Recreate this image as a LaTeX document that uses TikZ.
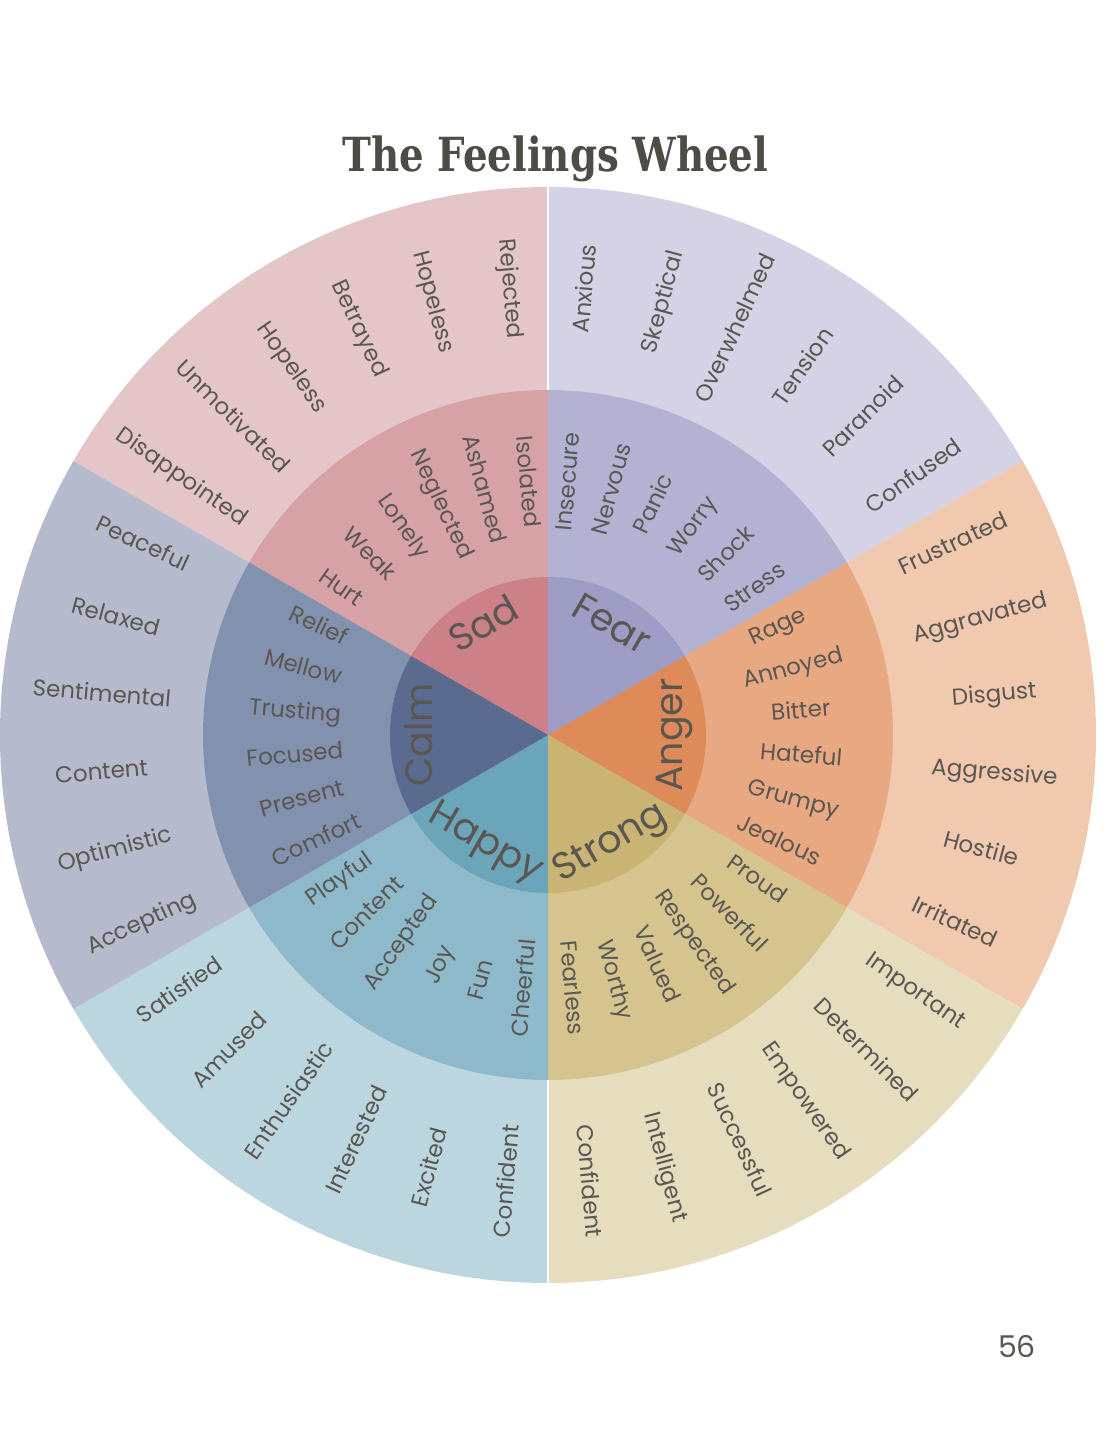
\documentclass[tikz,border=0pt]{standalone}
\usepackage{fontspec}
\setmainfont{Poppins}
\newfontfamily\titlefont{DejaVu Serif}
\definecolor{txt}{HTML}{5A5752}
\definecolor{titlec}{HTML}{4F4C45}
\definecolor{sadO}{HTML}{E4C6C9}\definecolor{sadM}{HTML}{D7A2A5}\definecolor{sadI}{HTML}{CB8187}
\definecolor{fearO}{HTML}{D4D2E4}\definecolor{fearM}{HTML}{B3B2D2}\definecolor{fearI}{HTML}{9C9CC4}
\definecolor{angO}{HTML}{F0C9AF}\definecolor{angM}{HTML}{E8A882}\definecolor{angI}{HTML}{DE8A59}
\definecolor{strO}{HTML}{E6DDBF}\definecolor{strM}{HTML}{D6C48E}\definecolor{strI}{HTML}{C9B473}
\definecolor{hapO}{HTML}{BCD6DF}\definecolor{hapM}{HTML}{8EB9CA}\definecolor{hapI}{HTML}{6BA5B9}
\definecolor{calO}{HTML}{B5BACC}\definecolor{calM}{HTML}{8291AE}\definecolor{calI}{HTML}{5B6B8F}
\newcommand\fwsector[4]{\fill[#4] (0,0) -- (#1:#3pt) arc[start angle=#1, end angle=#2, radius=#3pt] -- cycle;}
\tikzset{
  lbl/.style={font=\fontsize{23}{23}\selectfont, text=txt, inner sep=0pt, anchor=center, text height=16pt, text depth=5pt},
  big/.style={font=\fontsize{38}{38}\selectfont, text=txt, inner sep=0pt, anchor=center, text height=27pt, text depth=8pt},
  sepline/.style={white, line width=1.2pt}
}
\begin{document}
\begin{tikzpicture}[x=1pt,y=1pt]
\useasboundingbox (-548,-705) rectangle (564,735);
\fill[white] (-548,-705) rectangle (564,735);
% outer ring
\fwsector{90}{150}{548}{sadO}
\fwsector{30}{90}{548}{fearO}
\fwsector{-30}{30}{548}{angO}
\fwsector{-90}{-30}{548}{strO}
\fwsector{210}{270}{548}{hapO}
\fwsector{150}{210}{548}{calO}
\draw[sepline] (90:345pt) -- (90:548pt);
\draw[sepline] (270:345pt) -- (270:548pt);
% middle ring
\fwsector{90}{150}{345}{sadM}
\fwsector{30}{90}{345}{fearM}
\fwsector{-30}{30}{345}{angM}
\fwsector{-90}{-30}{345}{strM}
\fwsector{210}{270}{345}{hapM}
\fwsector{150}{210}{345}{calM}
% inner ring
\fwsector{90}{150}{158}{sadI}
\fwsector{30}{90}{158}{fearI}
\fwsector{-30}{30}{158}{angI}
\fwsector{-90}{-30}{158}{strI}
\fwsector{210}{270}{158}{hapI}
\fwsector{150}{210}{158}{calI}
% outer labels
\foreach \a/\w in {95/Rejected,105/Hopeless,115/Betrayed,125/Hopeless,135/Unmotivated,145/Disappointed,
  85/Anxious,75/Skeptical,65/Overwhelmed,55/Tension,45/Paranoid,35/Confused,
  25/Frustrated,15/Aggravated,5/Disgust,-5/Aggressive,-15/Hostile,-25/Irritated,
  -35/Important,-45/Determined,-55/Empowered,-65/Successful,-75/Intelligent,-85/Confident,
  265/Confident,255/Excited,245/Interested,235/Enthusiastic,225/Amused,215/Satisfied,
  205/Accepting,195/Optimistic,185/Content,175/Sentimental,165/Relaxed,155/Peaceful}{
  \pgfmathsetmacro\rr{cos(\a)>0 ? \a : \a+180}
  \node[lbl, rotate=\rr] (o\a) at (\a:448pt) {\w};
}
% middle labels
\foreach \a/\w in {95/Isolated,105/Ashamed,115/Neglected,125/Lonely,135/Weak,145/Hurt,
  85/Insecure,75/Nervous,65/Panic,55/Worry,45/Shock,35/Stress,
  25/Rage,15/Annoyed,5/Bitter,-5/Hateful,-15/Grumpy,-25/Jealous,
  -35/Proud,-45/Powerful,-55/Respected,-65/Valued,-75/Worthy,-85/Fearless,
  265/Cheerful,255/Fun,245/Joy,235/Accepted,225/Content,215/Playful,
  205/Comfort,195/Present,185/Focused,175/Trusting,165/Mellow,155/Relief}{
  \pgfmathsetmacro\rr{cos(\a)>0 ? \a : \a+180}
  \node[lbl, rotate=\rr] (m\a) at (\a:254pt) {\w};
}
% inner labels
\node[big, rotate=30] (sad) at (120:125pt) {Sad};
\node[big, rotate=-30] (fear) at (60:125pt) {Fear};
\node[big, rotate=90] (anger) at (0:125pt) {Anger};
\node[big, rotate=30] (strong) at (-60:125pt) {Strong};
\node[big, rotate=-30] (happy) at (240:125pt) {Happy};
\node[big, rotate=90] (calm) at (180:125pt) {Calm};
% title and page number
\node[font=\titlefont\bfseries\fontsize{47}{47}\selectfont, text=titlec, anchor=base, inner sep=0pt] (title) at (7.5,563) {\scalebox{0.825}[1]{The Feelings Wheel}};
\node[font=\fontsize{30}{30}\selectfont, text=txt, anchor=base, inner sep=0pt] (page) at (469,-622) {56};
\end{tikzpicture}
\end{document}
